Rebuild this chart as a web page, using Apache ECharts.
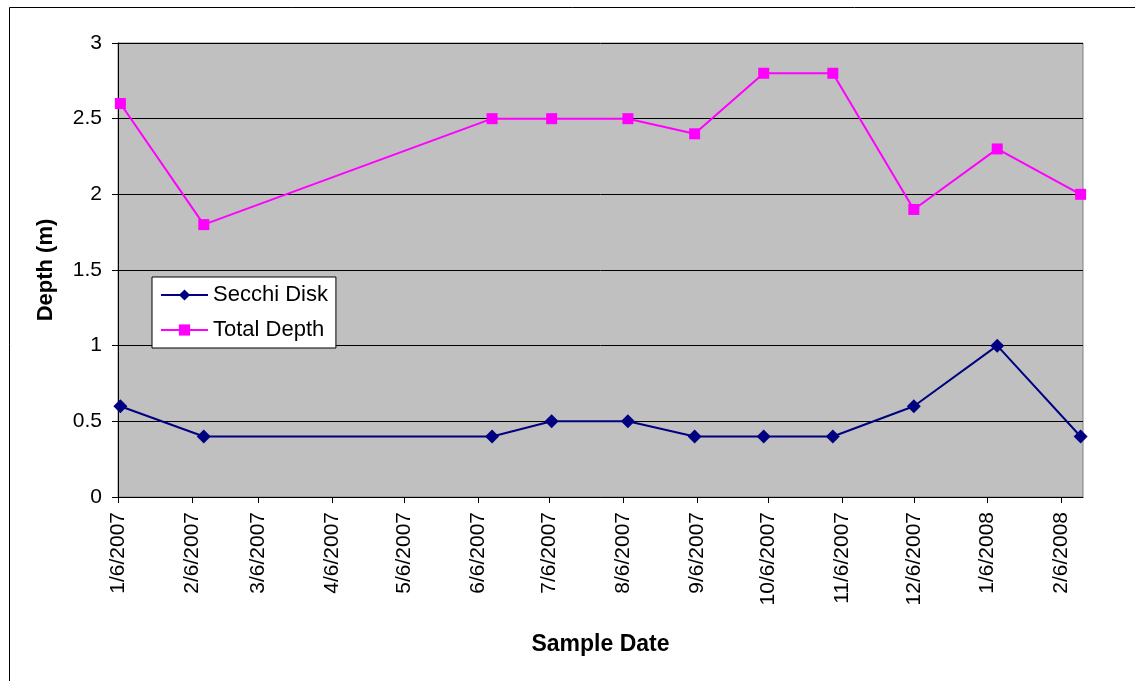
<!DOCTYPE html>
<html>
<head>
<meta charset="utf-8">
<script src="https://cdn.jsdelivr.net/npm/echarts@6/dist/echarts.min.js"></script>
<style>
html,body{margin:0;padding:0;background:#fff;}
#chart{width:1135px;height:681px;}
</style>
</head>
<body>
<div id="chart"></div>
<script>
// ---- data ----
var sampleDates = ['1/7/2007','2/11/2007','6/12/2007','7/7/2007','8/8/2007','9/5/2007','10/4/2007','11/2/2007','12/6/2007','1/10/2008','2/14/2008'];
var secchiDisk = [0.6, 0.4, 0.4, 0.5, 0.5, 0.4, 0.4, 0.4, 0.6, 1.0, 0.4];
var totalDepth = [2.6, 1.8, 2.5, 2.5, 2.5, 2.4, 2.8, 2.8, 1.9, 2.3, 2.0];
var tickLabels = ['1/6/2007','2/6/2007','3/6/2007','4/6/2007','5/6/2007','6/6/2007','7/6/2007','8/6/2007','9/6/2007','10/6/2007','11/6/2007','12/6/2007','1/6/2008','2/6/2008'];
var axisMinDate = '1/6/2007';
var axisMaxDate = '2/15/2008';

// day numbers (days since 1/1/2007) used as the axis unit
var DAY = 86400000, BASE = Date.UTC(2007, 0, 1);
function toDay(s){ var p = s.split('/'); return Math.round((Date.UTC(+p[2], +p[0]-1, +p[1]) - BASE) / DAY); }
var tickValues = tickLabels.map(toDay);
var labelByDay = {};
tickLabels.forEach(function(l){ labelByDay[toDay(l)] = l; });

var secchiData = sampleDates.map(function(d,i){ return [toDay(d), secchiDisk[i]]; });
var totalData = sampleDates.map(function(d,i){ return [toDay(d), totalDepth[i]]; });

var chart = echarts.init(document.getElementById('chart'));
var FONT = 'Liberation Sans, Arial, sans-serif';
chart.setOption({
  animation: false,
  backgroundColor: '#fff',
  textStyle: { fontFamily: FONT, color: '#000' },
  graphic: [{
    type: 'rect', silent: true, z: -1,
    shape: { x: 9.5, y: 7.5, width: 1200, height: 700 },
    style: { fill: 'none', stroke: '#000', lineWidth: 1 }
  }],
  grid: {
    left: 118, top: 43, right: 52, bottom: 184,
    show: true, backgroundColor: '#C0C0C0', borderColor: '#808080', borderWidth: 1,
    containLabel: false
  },
  legend: {
    orient: 'vertical', left: 152, top: 277,
    backgroundColor: '#fff', borderColor: '#000', borderWidth: 1,
    padding: [6, 8, 6, 8],
    itemWidth: 47, itemHeight: 14, itemGap: 11,
    textStyle: { fontFamily: FONT, fontSize: 22, color: '#000', lineHeight: 24 },
    data: ['Secchi Disk', 'Total Depth']
  },
  xAxis: {
    type: 'value',
    min: toDay(axisMinDate), max: toDay(axisMaxDate),
    name: 'Sample Date', nameLocation: 'middle', nameGap: 136,
    nameTextStyle: { fontFamily: FONT, fontSize: 23, fontWeight: 'bold', color: '#000' },
    axisLine: { show: true, lineStyle: { color: '#000', width: 1 } },
    axisTick: { show: true, length: 6, lineStyle: { color: '#000' }, customValues: tickValues },
    axisLabel: {
      customValues: tickValues, rotate: 90, margin: 15,
      fontFamily: FONT, fontSize: 21, color: '#000',
      formatter: function(v){ return labelByDay[Math.round(v)] || ''; }
    },
    splitLine: { show: false },
    minorTick: { show: false }
  },
  yAxis: {
    type: 'value', min: 0, max: 3, interval: 0.5,
    name: 'Depth (m)', nameLocation: 'middle', nameGap: 61,
    nameTextStyle: { fontFamily: FONT, fontSize: 22, fontWeight: 'bold', color: '#000' },
    axisLine: { show: true, lineStyle: { color: '#000', width: 1 } },
    axisTick: { show: true, length: 6, lineStyle: { color: '#000' } },
    axisLabel: { margin: 16, fontFamily: FONT, fontSize: 21, color: '#000' },
    splitLine: { show: true, lineStyle: { color: '#000', width: 1 } }
  },
  series: [{
    name: 'Secchi Disk', type: 'line', data: secchiData,
    symbol: 'diamond', symbolSize: 14, showAllSymbol: true,
    itemStyle: { color: '#000080' },
    lineStyle: { color: '#000080', width: 2 }
  }, {
    name: 'Total Depth', type: 'line', data: totalData,
    symbol: 'rect', symbolSize: 11, showAllSymbol: true,
    itemStyle: { color: '#FF00FF' },
    lineStyle: { color: '#FF00FF', width: 2 }
  }]
});
</script>
</body>
</html>
